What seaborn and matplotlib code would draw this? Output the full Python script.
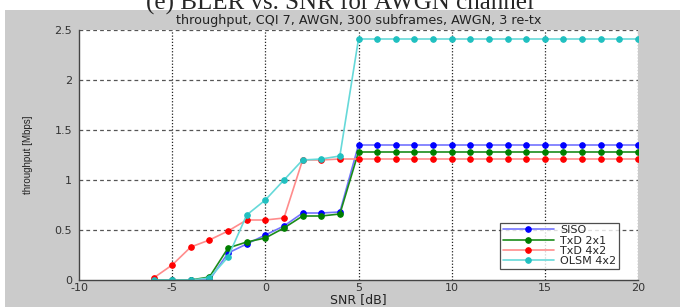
import numpy as np
import pandas as pd
import seaborn as sns
import matplotlib.pyplot as plt
from matplotlib.patches import Rectangle

# SNR points and throughput values
snr = list(range(-6, 21))
siso = [0, 0, 0, 0.0, 0.27, 0.36, 0.45, 0.54, 0.67, 0.67, 0.68] + [1.35] * 16
txd_2x1 = [0, 0, 0, 0.03, 0.32, 0.38, 0.42, 0.52, 0.64, 0.64, 0.66] + [1.28] * 16
txd_4x2 = [0.02, 0.15, 0.33, 0.40, 0.49, 0.60, 0.60, 0.62, 1.20, 1.20, 1.21] + [1.21] * 16
olsm_4x2 = [0, 0, 0, 0.02, 0.23, 0.65, 0.80, 1.00, 1.20, 1.21, 1.24] + [2.41] * 16

series_names = ['SISO', 'TxD 2x1', 'TxD 4x2', 'OLSM 4x2']
series_vals = [siso, txd_2x1, txd_4x2, olsm_4x2]
line_colors = [(0.45, 0.45, 1.0), (0.1, 0.55, 0.1), (1.0, 0.55, 0.55), (0.4, 0.85, 0.85)]
marker_colors = ['#0000ff', '#007f00', '#ff0000', '#20c0c0']

sns.set_style('white')
plt.rcParams['font.family'] = ['DejaVu Sans']
plt.rcParams['axes.unicode_minus'] = False

fig = plt.figure(figsize=(6.8, 3.07), dpi=100)
fig.patch.set_facecolor('white')
fig.patches.append(Rectangle((5 / 680, 0), 1, 1 - 10 / 307, transform=fig.transFigure,
                             facecolor='#cbcbcb', edgecolor='none', zorder=-10))
fig.text(0.5, 1 - 9.5 / 307, '(e) BLER vs. SNR for AWGN channel', ha='center', va='baseline',
         fontsize=18, family='Liberation Serif')

ax = fig.add_axes([79 / 680, 1 - 280 / 307, 559 / 680, 250 / 307])
ax.set_facecolor('white')

for name, vals, lc, mc in zip(series_names, series_vals, line_colors, marker_colors):
    df = pd.DataFrame({'snr': snr, 'thr': vals})
    sns.lineplot(data=df, x='snr', y='thr', ax=ax, color=lc, marker='o', markersize=4,
                 markerfacecolor=mc, markeredgecolor=mc, linewidth=1.2, label=name)

ax.set_xlim(-10, 20)
ax.set_ylim(0, 2.5)
ax.set_xticks(range(-10, 21, 5))
ax.set_yticks([0, 0.5, 1, 1.5, 2, 2.5])
ax.set_yticklabels(['0', '0.5', '1', '1.5', '2', '2.5'])
ax.tick_params(labelsize=8, colors='#333333', length=0)
ax.tick_params(axis='y', pad=5)
ax.tick_params(axis='x', pad=2)

# matlab-like grid: dotted verticals, dashed horizontals
for xv in range(-5, 21, 5):
    ax.axvline(xv, color='#222222', linestyle=(0, (1, 1.5)), linewidth=0.9, zorder=0)
for yv in [0.5, 1, 1.5, 2, 2.5]:
    ax.axhline(yv, color='#555555', linestyle=(0, (3, 2.5)), linewidth=0.9, zorder=0)

for side in ['top', 'right']:
    ax.spines[side].set_visible(False)
for side in ['left', 'bottom']:
    ax.spines[side].set_color('#444444')
    ax.spines[side].set_linewidth(1.0)

ax.set_title('throughput, CQI 7, AWGN, 300 subframes, AWGN, 3 re-tx', fontsize=9.2,
             color='#222222', pad=4)
ax.set_xlabel('SNR [dB]', fontsize=9, color='#222222', labelpad=0)
ax.set_ylabel('throughput [Mbps]', fontsize=7, color='#222222', labelpad=15,
              family='Liberation Sans')

leg = ax.legend(loc='lower right', bbox_to_anchor=(0.9665, 0.045), fontsize=8,
                frameon=True, fancybox=False, borderpad=0.25, labelspacing=0.02,
                handlelength=4.6, handletextpad=0.6, borderaxespad=0)
leg.get_frame().set_edgecolor('#222222')
leg.get_frame().set_linewidth(0.9)

fig.savefig('out.png', dpi=100, facecolor=fig.get_facecolor())
